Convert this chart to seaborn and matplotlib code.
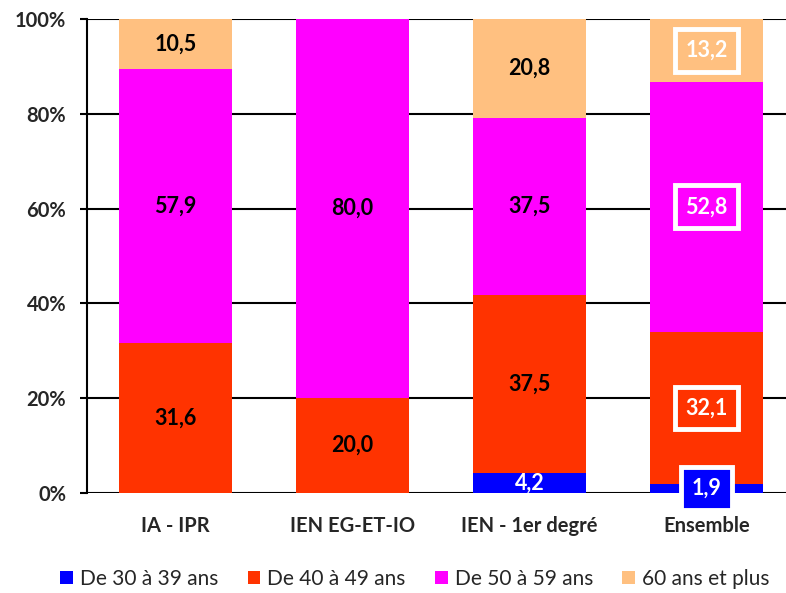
import matplotlib
matplotlib.use("Agg")
import matplotlib.pyplot as plt
from matplotlib.patches import Patch
import numpy as np
import pandas as pd
import seaborn as sns

# ── Data ──────────────────────────────────────────────────────────────────────
categories = ["IA - IPR", "IEN EG-ET-IO", "IEN - 1er degré", "Ensemble"]
series = ["De 30 à 39 ans", "De 40 à 49 ans", "De 50 à 59 ans", "60 ans et plus"]
age_30_39 = [0.0, 0.0, 4.2, 1.9]
age_40_49 = [31.6, 20.0, 37.5, 32.1]
age_50_59 = [57.9, 80.0, 37.5, 52.8]
age_60_plus = [10.5, 0.0, 20.8, 13.2]
yticks = [0, 20, 40, 60, 80, 100]
ytick_labels = ["0%", "20%", "40%", "60%", "80%", "100%"]

colors = ["#0000FF", "#FF3300", "#FF00FF", "#FFC080"]

sns.set_style("white")
plt.rcParams["font.family"] = ["Lato", "DejaVu Sans"]

values = np.array([age_30_39, age_40_49, age_50_59, age_60_plus])
cum = values.cumsum(axis=0)

fig = plt.figure(figsize=(7.86, 5.93), dpi=100)
ax = fig.add_axes([87 / 786, 1 - 493 / 593, (786 - 87) / 786, (493 - 19) / 593])

# stacked bars: draw cumulative totals from the top series down
for i in range(len(series) - 1, -1, -1):
    df = pd.DataFrame({"cat": categories, "val": cum[i]})
    sns.barplot(data=df, x="cat", y="val", color=colors[i], width=0.64,
                saturation=1, ax=ax, zorder=3, edgecolor="none")

ax.set_xlim(-0.5, -0.5 + (786 - 87) / 177)
ax.set_ylim(0, 100)
ax.set_yticks(yticks)
ax.set_yticklabels(ytick_labels, fontsize=14.5, fontweight="bold")
ax.set_xticks(range(len(categories)))
ax.set_xticklabels(categories, fontsize=14.5, fontweight="bold")
ax.set_xlabel("")
ax.set_ylabel("")
ax.grid(axis="y", color="black", linewidth=1.5, zorder=0)
ax.set_axisbelow(True)
for side in ("top", "right", "bottom"):
    ax.spines[side].set_visible(False)
ax.spines["left"].set_color("black")
ax.spines["left"].set_linewidth(1.5)
ax.tick_params(axis="y", left=True, length=5, width=1.5, color="black", pad=10)
ax.tick_params(axis="x", bottom=False, pad=13)

# segment labels
for j, cat in enumerate(categories):
    for i in range(len(series)):
        v = values[i, j]
        if v == 0:
            continue
        label = f"{v:.1f}".replace(".", ",")
        y = cum[i, j] - v / 2
        if cat == "Ensemble":
            if i == 0:
                y = 1.0
            ax.text(j, y, label, ha="center", va="center", fontsize=15.5,
                    fontweight="bold", color="white", zorder=5,
                    bbox=dict(boxstyle="square,pad=0.5", facecolor=colors[i],
                              edgecolor="white", linewidth=3.5))
        else:
            ax.text(j, y, label, ha="center", va="center", fontsize=15.5,
                    fontweight="bold", color="white" if i == 0 else "black",
                    zorder=5)

handles = [Patch(facecolor=c, edgecolor="none") for c in colors]
fig.legend(handles, series, loc="center", bbox_to_anchor=(415 / 786, 1 - 579 / 593),
           ncol=4, frameon=False, fontsize=15, handlelength=0.6, handleheight=0.6,
           handletextpad=0.35, columnspacing=1.4)

fig.savefig("out.png", dpi=100)
